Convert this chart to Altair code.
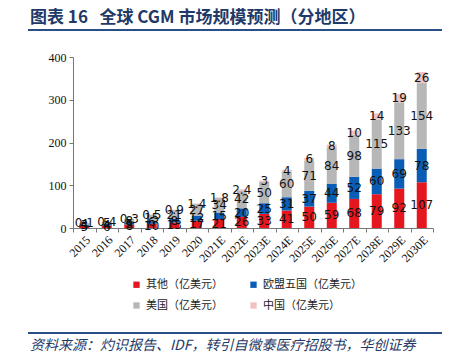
import altair as alt
import pandas as pd

years = ["2015", "2016", "2017", "2018", "2019", "2020", "2021E", "2022E",
         "2023E", "2024E", "2025E", "2026E", "2027E", "2028E", "2029E", "2030E"]
other = [5, 6, 8, 10, 13, 17, 21, 26, 33, 41, 50, 59, 68, 79, 92, 107]
eu5 = [3, 4, 5, 6, 8, 12, 15, 20, 25, 31, 37, 44, 52, 60, 69, 78]
us = [4, 5, 8, 15, 21, 27, 34, 42, 50, 60, 71, 84, 98, 115, 133, 154]
china = [0.1, 0.4, 0.3, 0.5, 0.9, 1.4, 1.8, 2.4, 3, 4, 6, 8, 10, 14, 19, 26]

series_names = ["其他（亿美元）", "欧盟五国（亿美元）", "美国（亿美元）", "中国（亿美元）"]
series_vals = [other, eu5, us, china]
colors = ["#E6161E", "#0A5DB5", "#B7B7B7", "#F0C2C2"]

rows = []
for k, (name, vals) in enumerate(zip(series_names, series_vals)):
    for y, v in zip(years, vals):
        lab = str(int(v)) if float(v).is_integer() else str(v)
        rows.append({"year": y, "series": name, "value": v, "order": k, "label": lab})
df = pd.DataFrame(rows)

base = alt.Chart(df).transform_stack(
    stack="value", as_=["y0", "y1"], groupby=["year"], sort=[alt.SortField("order")]
).transform_calculate(mid="(datum.y0 + datum.y1) / 2")

xenc = alt.X("year:N", sort=years, title=None,
             scale=alt.Scale(paddingInner=0, paddingOuter=0),
             axis=alt.Axis(labelAngle=315, labelFont="Liberation Serif", labelFontSize=12,
                           labelColor="#111", tickBand="extent", tickSize=4,
                           domainColor="#777", tickColor="#777", labelPadding=2))

bars = base.mark_bar(size=10).encode(
    x=xenc,
    y=alt.Y("y0:Q", title=None, scale=alt.Scale(domain=[0, 400]),
            axis=alt.Axis(values=list(range(0, 401, 50)), grid=False,
                          labelFont="Liberation Serif", labelFontSize=12, labelColor="#111",
                          tickSize=4, domainColor="#777", tickColor="#777", labelPadding=3)),
    y2="y1:Q",
    color=alt.Color("series:N", sort=series_names,
                    scale=alt.Scale(domain=series_names, range=colors),
                    legend=alt.Legend(title=None, orient="none", legendX=58, legendY=222,
                                      columns=2, direction="horizontal",
                                      symbolType="square", symbolSize=40,
                                      symbolStrokeWidth=0, labelFont="Noto Sans CJK SC",
                                      labelFontSize=11, labelColor="#222",
                                      columnPadding=25, rowPadding=9, labelOffset=4)),
)

texts = base.mark_text(font="DejaVu Sans", fontSize=12, color="#111", baseline="middle").encode(
    x=alt.X("year:N", sort=years),
    y=alt.Y("mid:Q"),
    text="label:N",
)

one = pd.DataFrame({"a": [0]})
title = alt.Chart(one).mark_text(
    text="图表 16\u00a0\u00a0\u00a0全球 CGM 市场规模预测（分地区）", font="Noto Sans CJK SC", fontSize=17,
    fontWeight="bold", color="#1F3A68", align="left", baseline="middle"
).encode(x=alt.value(-43), y=alt.value(-39))
topline = alt.Chart(one).mark_rule(color="#2A4F86", strokeWidth=2).encode(
    x=alt.value(-45), x2=alt.value(369), y=alt.value(-27))
botline = alt.Chart(one).mark_rule(color="#2A4F86", strokeWidth=2).encode(
    x=alt.value(-45), x2=alt.value(369), y=alt.value(276))
source = alt.Chart(one).mark_text(
    text="资料来源：灼识报告、IDF，转引自微泰医疗招股书，华创证券", font="Noto Sans CJK SC",
    fontSize=14, fontStyle="italic", color="#1F3A68", align="left", baseline="middle"
).encode(x=alt.value(-43), y=alt.value(289))

chart = alt.layer(bars, texts, title, topline, botline, source).properties(
    width=360, height=171,
    autosize=alt.AutoSizeParams(type="none"),
    padding={"left": 65, "top": 49, "right": 17, "bottom": 126},
).configure_view(stroke=None)

chart.save("out.html", embed_options={"renderer": "svg", "actions": False})
